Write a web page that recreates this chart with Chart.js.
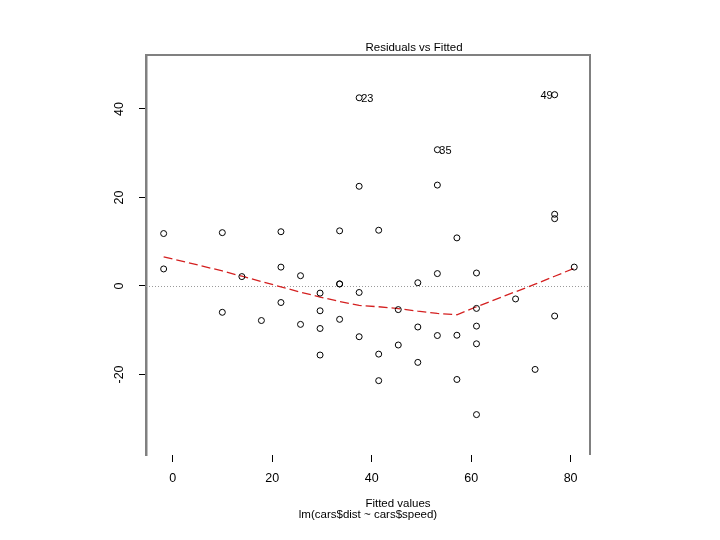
<!DOCTYPE html>
<html>
<head>
<meta charset="utf-8">
<script src="https://cdn.jsdelivr.net/npm/chart.js@4"></script>
<style>
  body { margin: 0; background: #fff; }
  canvas { display: block; }
</style>
</head>
<body>
<canvas id="residChart" width="720" height="540"></canvas>
<script>
// fitted values and residuals
const fitted = [-1.85, -1.85, 9.95, 9.95, 13.88, 17.81, 21.74, 21.74, 21.74, 25.68,
  25.68, 29.61, 29.61, 29.61, 29.61, 33.54, 33.54, 33.54, 33.54, 37.47,
  37.47, 37.47, 37.47, 41.40, 41.40, 41.40, 45.34, 45.34, 49.27, 49.27,
  49.27, 53.20, 53.20, 53.20, 53.20, 57.13, 57.13, 57.13, 61.07, 61.07,
  61.07, 61.07, 61.07, 68.93, 72.86, 76.79, 76.79, 76.79, 76.79, 80.73];
const residuals = [3.85, 11.85, -5.95, 12.05, 2.12, -7.81, -3.74, 4.26, 12.26, -8.68,
  2.32, -15.61, -9.61, -5.61, -1.61, -7.54, 0.46, 0.46, 12.46, -11.47,
  -1.47, 22.53, 42.53, -21.40, -15.40, 12.60, -13.34, -5.34, -17.27, -9.27,
  0.73, -11.20, 2.80, 22.80, 30.80, -21.13, -11.13, 10.87, -29.07, -13.07,
  -9.07, -5.07, 2.93, -2.93, -18.86, -6.79, 15.21, 16.21, 43.21, 4.27];

// smoother (red dashed)
const smoothX = [-1.85, 9.95, 13.88, 17.81, 21.74, 25.68, 29.61, 33.54, 37.47, 41.40,
  45.34, 49.27, 53.20, 57.13, 61.07, 68.93, 72.86, 76.79, 80.73];
const smoothY = [6.6, 3.4, 2.2, 1.0, -0.2, -1.4, -2.5, -3.5, -4.4, -4.7,
  -5.1, -5.7, -6.2, -6.5, -4.7, -1.3, 0.4, 2.2, 4.0];

// labelled observations (1-based) and side of the label
const flagged = [23, 35, 49];
const flagSide = ['right', 'right', 'left'];

const xTicks = [0, 20, 40, 60, 80];
const yTicks = [-20, 0, 20, 40];

const FONT = '"Liberation Sans", Arial, sans-serif';

const extras = {
  id: 'extras',
  beforeDatasetsDraw(chart) {
    const { ctx, chartArea: a, scales: { x, y } } = chart;
    // dotted zero line
    ctx.save();
    ctx.strokeStyle = '#9a9a9a';
    ctx.lineWidth = 1;
    ctx.setLineDash([1, 2]);
    const py = Math.round(y.getPixelForValue(0)) + 0.5;
    ctx.beginPath();
    ctx.moveTo(a.left, py);
    ctx.lineTo(a.right, py);
    ctx.stroke();
    ctx.restore();
  },
  afterDraw(chart) {
    const { ctx, chartArea: a, scales: { x, y } } = chart;
    ctx.save();
    // top and right frame
    ctx.strokeStyle = '#808080';
    ctx.lineWidth = 2;
    ctx.beginPath();
    ctx.moveTo(a.left, a.top);
    ctx.lineTo(a.right, a.top);
    ctx.lineTo(a.right, a.bottom);
    ctx.stroke();

    // rotated y tick labels
    ctx.fillStyle = '#000';
    ctx.font = '12.5px ' + FONT;
    ctx.textAlign = 'center';
    ctx.textBaseline = 'middle';
    yTicks.forEach(v => {
      ctx.save();
      ctx.translate(120, y.getPixelForValue(v));
      ctx.rotate(-Math.PI / 2);
      ctx.fillText(String(v), 0, 0);
      ctx.restore();
    });

    // point labels
    ctx.font = '11px ' + FONT;
    flagged.forEach((n, i) => {
      const px = x.getPixelForValue(fitted[n - 1]);
      const py = y.getPixelForValue(residuals[n - 1]);
      if (flagSide[i] === 'right') {
        ctx.textAlign = 'left';
        ctx.fillText(String(n), px + 2, py + 1);
      } else {
        ctx.textAlign = 'right';
        ctx.fillText(String(n), px - 2, py + 1);
      }
    });

    // titles
    ctx.textAlign = 'center';
    ctx.font = '11.5px ' + FONT;
    ctx.fillText('Residuals vs Fitted', 414, 47.5);
    ctx.fillText('Fitted values', 398, 504);
    ctx.fillText('lm(cars$dist ~ cars$speed)', 368, 514.5);
    ctx.restore();
  }
};

new Chart(document.getElementById('residChart'), {
  data: {
    datasets: [{
      type: 'scatter',
      data: fitted.map((f, i) => ({ x: f, y: residuals[i] })),
      pointStyle: 'circle',
      pointRadius: 3,
      backgroundColor: 'rgba(0,0,0,0)',
      borderColor: '#000',
      borderWidth: 1
    }, {
      type: 'line',
      data: smoothX.map((f, i) => ({ x: f, y: smoothY[i] })),
      borderColor: '#d42020',
      borderWidth: 1.3,
      borderDash: [9, 4],
      pointRadius: 0,
      tension: 0,
      fill: false
    }]
  },
  options: {
    responsive: false,
    animation: false,
    layout: { padding: { left: 0, top: 55, right: 130, bottom: 0 } },
    plugins: {
      legend: { display: false },
      tooltip: { enabled: false }
    },
    scales: {
      x: {
        type: 'linear',
        min: -5.4,
        max: 83.9,
        afterBuildTicks: s => { s.ticks = xTicks.map(v => ({ value: v })); },
        afterFit: s => { s.height = 85; },
        border: { display: false },
        grid: { drawOnChartArea: false, drawTicks: true, tickLength: 7, color: '#000', lineWidth: 1 },
        ticks: {
          color: '#000',
          font: { family: FONT, size: 12.5 },
          padding: 9,
          maxRotation: 0
        }
      },
      y: {
        type: 'linear',
        min: -38.2,
        max: 52.2,
        afterBuildTicks: s => { s.ticks = yTicks.map(v => ({ value: v })); },
        afterFit: s => { s.width = 146; },
        border: { display: true, color: '#808080', width: 2.5 },
        grid: { drawOnChartArea: false, drawTicks: true, tickLength: 7, color: '#000', lineWidth: 1 },
        ticks: { display: false }
      }
    }
  },
  plugins: [extras]
});
</script>
</body>
</html>
